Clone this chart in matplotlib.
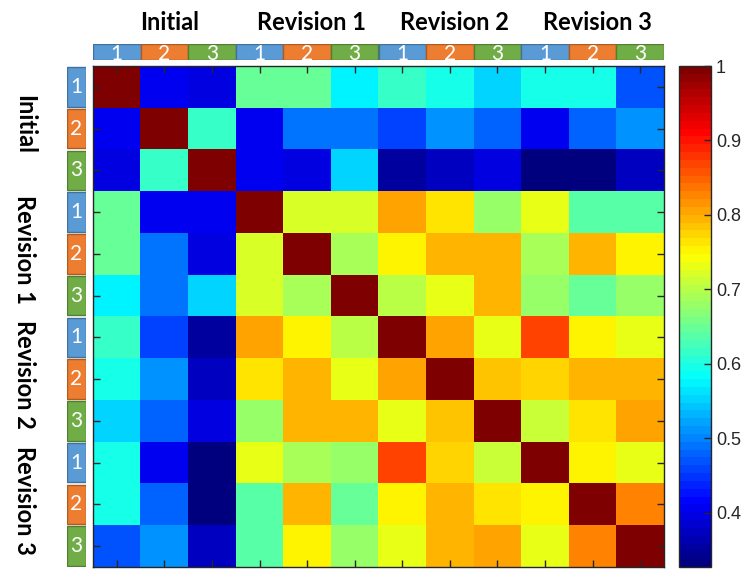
import numpy as np
import matplotlib
matplotlib.use("Agg")
import matplotlib.pyplot as plt
from matplotlib.colors import LinearSegmentedColormap

# similarity between every pair of drafts (symmetric)
groups = ["Initial", "Revision 1", "Revision 2", "Revision 3"]
sub_labels = ["1", "2", "3"]
corr = [
    [1.000, 0.410, 0.400, 0.645, 0.645, 0.579, 0.613, 0.593, 0.549, 0.600, 0.600, 0.470],
    [0.410, 1.000, 0.613, 0.410, 0.495, 0.495, 0.460, 0.507, 0.484, 0.405, 0.484, 0.507],
    [0.400, 0.613, 1.000, 0.410, 0.400, 0.556, 0.352, 0.378, 0.400, 0.335, 0.335, 0.372],
    [0.645, 0.410, 0.410, 1.000, 0.717, 0.717, 0.810, 0.761, 0.675, 0.727, 0.642, 0.632],
    [0.645, 0.495, 0.400, 0.717, 1.000, 0.695, 0.748, 0.800, 0.791, 0.695, 0.800, 0.748],
    [0.579, 0.495, 0.556, 0.717, 0.695, 1.000, 0.705, 0.727, 0.791, 0.682, 0.652, 0.682],
    [0.613, 0.460, 0.352, 0.810, 0.748, 0.705, 1.000, 0.810, 0.734, 0.864, 0.748, 0.734],
    [0.593, 0.507, 0.378, 0.761, 0.800, 0.727, 0.810, 1.000, 0.781, 0.771, 0.791, 0.800],
    [0.549, 0.484, 0.400, 0.675, 0.791, 0.791, 0.734, 0.781, 1.000, 0.707, 0.761, 0.810],
    [0.600, 0.405, 0.335, 0.727, 0.695, 0.682, 0.864, 0.771, 0.707, 1.000, 0.748, 0.734],
    [0.600, 0.484, 0.335, 0.642, 0.800, 0.652, 0.748, 0.791, 0.761, 0.748, 1.000, 0.823],
    [0.470, 0.507, 0.372, 0.632, 0.748, 0.682, 0.734, 0.800, 0.810, 0.734, 0.823, 1.000],
]
cbar_ticks = [0.4, 0.5, 0.6, 0.7, 0.8, 0.9, 1.0]
vmin, vmax = 0.327, 1.0

box_face = ["#5B9BD5", "#ED7D31", "#70AD47"]
box_edge = ["#41719C", "#AE5A21", "#507E32"]

# MATLAB style jet, 64 steps
jet = LinearSegmentedColormap.from_list(
    "mjet",
    [(0, (0, 0, 0.5)), (1 / 8, (0, 0, 1)), (3 / 8, (0, 1, 1)),
     (5 / 8, (1, 1, 0)), (7 / 8, (1, 0, 0)), (1, (0.5, 0, 0))],
    N=64,
)

W, H = 747, 569
def px_axes(fig, x0, y0, x1, y1):
    return fig.add_axes([x0 / W, 1 - y1 / H, (x1 - x0) / W, (y1 - y0) / H])

fig = plt.figure(figsize=(W / 100, H / 100), dpi=100)

data = np.array(corr)
n = data.shape[0]
ax = px_axes(fig, 93, 66, 664, 567)
im = ax.imshow(data, cmap=jet, vmin=vmin, vmax=vmax, aspect="auto",
               interpolation="nearest")
ax.set_xticks(range(n))
ax.set_yticks(range(n))
ax.set_xticklabels([])
ax.set_yticklabels([])
ax.tick_params(direction="in", length=5, width=1, color="#262626",
               top=True, right=True)
for s in ax.spines.values():
    s.set_color("#262626")
    s.set_linewidth(1)

sub = sub_labels * len(groups)
idx = np.arange(n)
faces = [box_face[i % 3] for i in idx]
edges = [box_edge[i % 3] for i in idx]

# coloured strip along the top
top = px_axes(fig, 93, 44, 664, 60)
top.bar(idx, 1, width=1, bottom=0, color=faces, edgecolor=edges, linewidth=1)
top.set_xlim(-0.5, n - 0.5)
top.set_ylim(0, 1)
top.axis("off")
for i, t in zip(idx, sub):
    top.text(i, 0.4, t, color="white", fontsize=15, family="Lato",
             ha="center", va="center")

# coloured strip along the left
left = px_axes(fig, 67, 66, 86, 567)
left.barh(idx, 1, height=0.95, left=0, color=faces, edgecolor=edges, linewidth=1)
left.set_ylim(n - 0.5, -0.5)
left.set_xlim(0, 1)
left.axis("off")
for i, t in zip(idx, sub):
    left.text(0.5, i, t, color="white", fontsize=15, family="Lato",
              ha="center", va="center")

# group names
for g, name in enumerate(groups):
    c = 3 * g + 1
    ax.text(c + 0.1, -1.55, name, fontsize=17, fontweight="bold", family="Lato",
            ha="center", va="center", clip_on=False)
    ax.text(-1.93, c - 0.1, name, fontsize=17, fontweight="bold", family="Lato",
            ha="center", va="center", rotation=-90, clip_on=False)

cax = px_axes(fig, 679, 66, 711, 567)
cb = fig.colorbar(im, cax=cax, ticks=cbar_ticks)
cb.ax.set_yticklabels(["0.4", "0.5", "0.6", "0.7", "0.8", "0.9", "1"])
cb.ax.tick_params(direction="in", length=5, width=1, color="#262626",
                  labelsize=13, labelcolor="#262626")
for lab in cb.ax.get_yticklabels():
    lab.set_family("Liberation Sans")
cb.outline.set_edgecolor("#262626")
cb.outline.set_linewidth(1)

fig.savefig("out.png", dpi=100)
